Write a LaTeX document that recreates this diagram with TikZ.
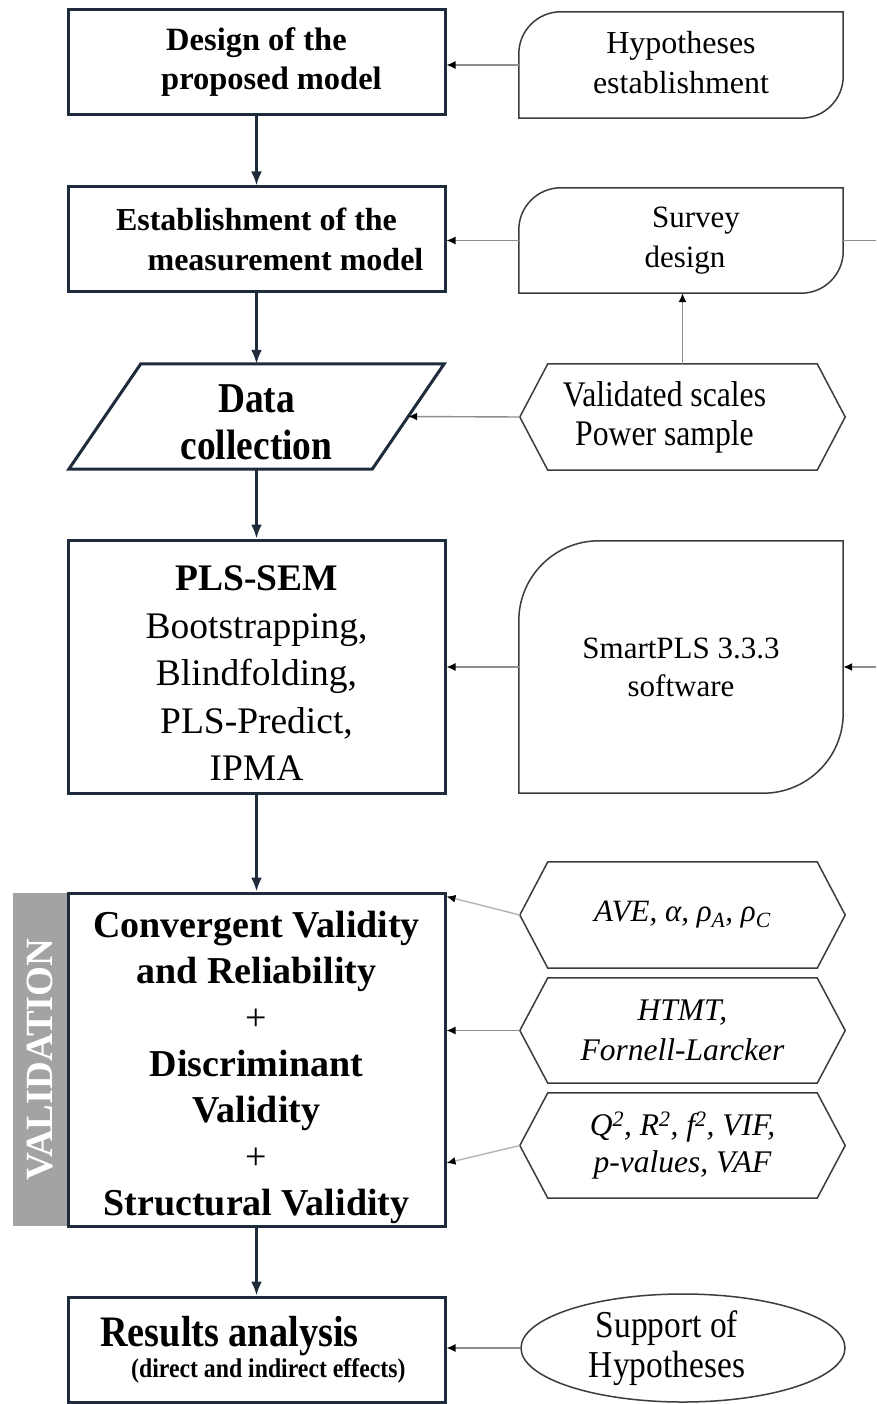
\documentclass[tikz,border=0pt]{standalone}
\usepackage{fontspec}
\setmainfont{Liberation Serif}
\newfontfamily\condserif[FakeStretch=0.88]{Liberation Serif}
\usetikzlibrary{arrows.meta,shapes.geometric}
\definecolor{navy}{HTML}{1E2B3A}
\definecolor{edge}{HTML}{3C3C3C}
\definecolor{linkgray}{HTML}{8E8E8E}
\definecolor{fadegray}{HTML}{B4B4B4}
\definecolor{bargray}{HTML}{A3A3A3}

% hexagonal outline drawn on the bounding rectangle of a node
\newcommand\hexoutline[1]{%
  \draw[outline] ([xshift=28pt]#1.north west) -- ([xshift=-28pt]#1.north east)
    -- (#1.east) -- ([xshift=-28pt]#1.south east) -- ([xshift=28pt]#1.south west)
    -- (#1.west) -- cycle;}
% tab outline: rounded top-left and bottom-right corners
\newcommand\taboutline[2]{%
  \draw[outline] (#1.west) [rounded corners=#2] -- (#1.north west) -- (#1.north)
    [sharp corners] -- (#1.north east) -- (#1.east)
    [rounded corners=#2] -- (#1.south east) -- (#1.south)
    [sharp corners] -- (#1.south west) -- cycle;}

\begin{document}
\begin{tikzpicture}[x=1pt,y=-1pt,
  stagebox/.style={draw=navy, line width=3pt, minimum width=377pt, align=center, inner sep=0pt},
  sidebox/.style={minimum width=324pt, align=center, inner sep=0pt},
  textblock/.style={align=center, inner sep=0pt},
  flow/.style={draw=navy, line width=2.6pt, -{Latex[length=14pt,width=11pt]}},
  feed/.style={draw=linkgray, line width=1.4pt, -{Latex[length=9pt,width=8pt,color=black]}},
  outline/.style={draw=edge, line width=1.5pt},
]
\useasboundingbox[fill=white] (0,0) rectangle (876,1404);

% ---------- main process column ----------
\node[stagebox, minimum height=105pt, font=\bfseries\fontsize{32.5}{39}\selectfont]
  (b1) at (256.5,62.5) {Design of the\\\hspace*{30pt}proposed model};
\node[stagebox, minimum height=105pt, font=\bfseries\fontsize{32}{40}\selectfont]
  (b2) at (256.5,239.5) {Establishment of the\\\hspace*{58pt}measurement model};

\node[minimum width=303pt, minimum height=105pt, inner sep=0pt] (dc) at (256.5,416.5) {};
\draw[draw=navy, line width=3pt] ([xshift=36pt]dc.north west) -- ([xshift=36pt]dc.north east)
  -- ([xshift=-36pt]dc.south east) -- ([xshift=-36pt]dc.south west) -- cycle;
\node[textblock, font=\condserif\bfseries\fontsize{42.5}{47}\selectfont]
  (dc-text) at ([yshift=-6pt]dc.center) {Data\\collection};

\node[stagebox, minimum height=253pt] (pls) at (256.5,666.5) {};
\node[textblock, font=\fontsize{37.5}{47.5}\selectfont]
  (pls-text) at ([yshift=-7pt]pls.center) {\textbf{PLS-SEM}\\Bootstrapping,\\Blindfolding,\\PLS-Predict,\\IPMA};

\node[fill=bargray, minimum width=333pt, minimum height=55pt, rotate=90, inner sep=0pt,
  text=white, font=\bfseries\fontsize{38.5}{39}\selectfont]
  (vbar) at (40.5,1059.5) {VALIDATION};
\node[stagebox, minimum height=333pt] (val) at (256.5,1059.5) {};
\node[textblock, font=\bfseries\fontsize{38}{46.3}\selectfont]
  (val-text) at ([yshift=-8pt]val.center) {Convergent Validity\\and Reliability\\\textnormal{+}\\Discriminant\\Validity\\\textnormal{+}\\Structural Validity};

\node[stagebox, minimum height=105pt] (res) at (256.5,1349.5) {};
\node[anchor=base west, inner sep=0pt, font=\condserif\bfseries\fontsize{43.5}{44}\selectfont]
  (res-title) at (100,1346) {Results analysis};
\node[anchor=base west, inner sep=0pt, font=\condserif\bfseries\fontsize{27}{28}\selectfont]
  (res-note) at (131,1377) {(direct and indirect effects)};

% ---------- side inputs ----------
\node[sidebox, minimum height=106pt] (hyp) at (681,65) {};
\taboutline{hyp}{42pt}
\node[textblock, font=\fontsize{32}{40}\selectfont]
  (hyp-text) at ([yshift=2pt]hyp.center) {Hypotheses\\establishment};
\node[sidebox, minimum height=105pt, font=\fontsize{31}{40}\selectfont]
  (sur) at (681,240.5) {\hspace*{30pt}Survey\\\hspace*{8pt}design};
\taboutline{sur}{42pt}
\node[sidebox, minimum width=325pt, minimum height=106pt, font=\condserif\fontsize{36}{39}\selectfont]
  (vs) at (682.5,417) {Validated scales\hspace*{36pt}\\Power sample\hspace*{36pt}};
\hexoutline{vs}
\node[sidebox, minimum height=252pt, font=\fontsize{31}{38}\selectfont]
  (spl) at (681,667) {SmartPLS 3.3.3\\software};
\taboutline{spl}{80pt}

\node[sidebox, minimum width=325pt, minimum height=106pt, font=\itshape\fontsize{31}{38}\selectfont]
  (ave) at (682.5,915) {AVE, α, ρ\textsubscript{A}, ρ\textsubscript{C}};
\hexoutline{ave}
\node[sidebox, minimum width=325pt, minimum height=105pt, font=\itshape\fontsize{31.5}{40}\selectfont]
  (htmt) at (682.5,1030.5) {HTMT,\\Fornell-Larcker};
\hexoutline{htmt}
\node[sidebox, minimum width=325pt, minimum height=105pt, font=\itshape\fontsize{31.5}{37}\selectfont]
  (qrf) at (682.5,1145.5) {Q\textsuperscript{2}, R\textsuperscript{2}, f\textsuperscript{2}, VIF,\\p-values, VAF};
\hexoutline{qrf}

\node[draw=edge, line width=1.5pt, ellipse, minimum width=324pt, minimum height=108pt,
  inner sep=0pt, align=center, font=\condserif\fontsize{38}{40}\selectfont]
  (sup) at (683,1348) {Support of\hspace*{32pt}\\Hypotheses\hspace*{32pt}};

\coordinate (edgeA) at (876,240.5);
\coordinate (edgeB) at (876,667);

% ---------- connectors ----------
\draw[flow] (b1) -- (b2);
\draw[flow] (b2) -- (dc);
\draw[flow] (dc) -- (pls);
\draw[flow] (pls) -- (val);
\draw[flow] (val) -- (res);

\draw[feed] (hyp.west) -- (hyp.west -| b1.east);
\draw[feed] (sur.west) -- (sur.west -| b2.east);
\draw[draw=linkgray, line width=1.4pt] (sur.east) -- (edgeA);
\draw[feed] (vs.north) -- (vs.north |- sur.south);
\draw[feed] (vs.west) -- (dc.east);
\draw[feed] (spl.west) -- (spl.west -| pls.east);
\draw[feed] (edgeB) -- (spl.east);
\draw[feed, draw=fadegray] (ave.west) -- ([yshift=-5pt]val.north east);
\draw[feed] (htmt.west) -- (htmt.west -| val.east);
\draw[feed, draw=fadegray] (qrf.west) -- ([yshift=-103.5pt]val.east);
\draw[feed] (sup.west) -- (sup.west -| res.east);
\end{tikzpicture}
\end{document}
